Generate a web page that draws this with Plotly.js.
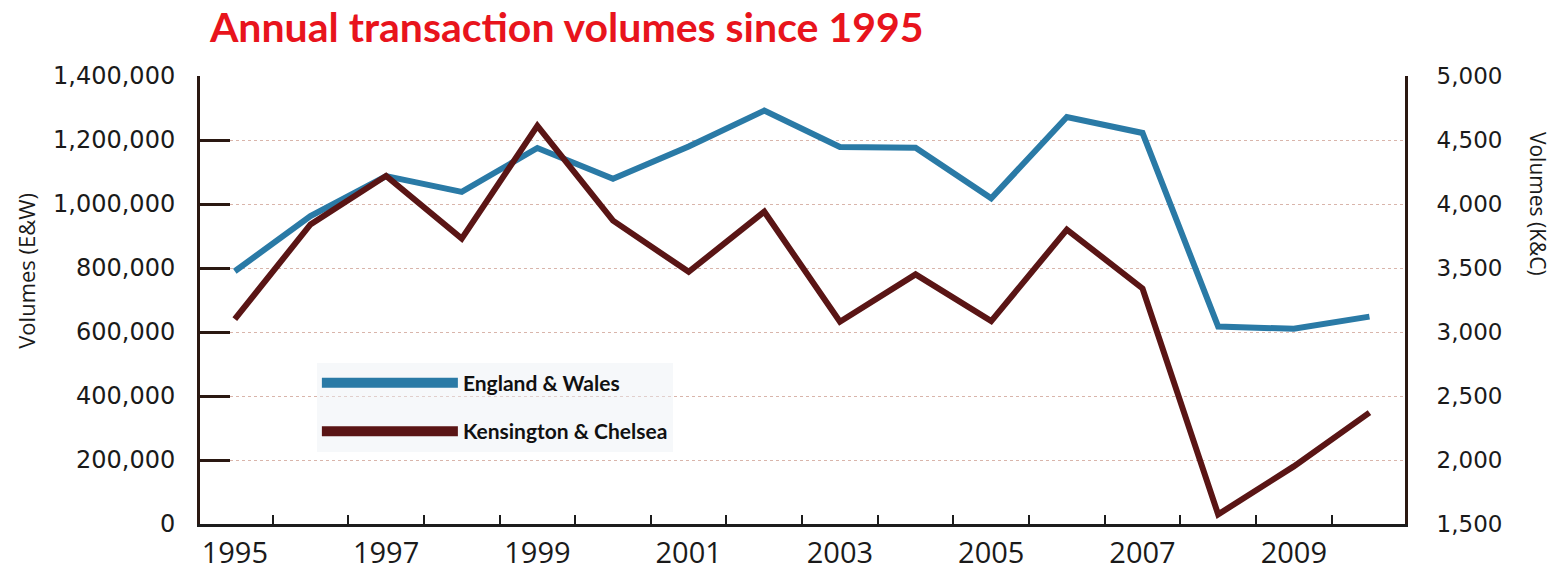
<!DOCTYPE html>
<html>
<head>
<meta charset="utf-8">
<script src="https://cdn.plot.ly/plotly-3.0.1.min.js"></script>
<style>
  html, body { margin: 0; padding: 0; background: #ffffff; }
  #chart { width: 1555px; height: 576px; }
</style>
</head>
<body>
<div id="chart"></div>
<script>
// ---- data ----
const years = [1995, 1996, 1997, 1998, 1999, 2000, 2001, 2002, 2003, 2004, 2005, 2006, 2007, 2008, 2009, 2010];
const englandWales = [790000, 962000, 1087000, 1038000, 1175000, 1079000, 1180000, 1292000, 1178000, 1176000, 1018000, 1272000, 1222000, 617000, 610000, 648000];
const kensingtonChelsea = [3100, 3840, 4220, 3730, 4610, 3870, 3470, 3940, 3080, 3450, 3085, 3800, 3340, 1575, 1950, 2370];
const xTickYears = [1995, 1997, 1999, 2001, 2003, 2005, 2007, 2009];
const xTickLabels = ["1995", "1997", "1999", "2001", "2003", "2005", "2007", "2009"];
const xBoundaryTicks = [1995.5, 1996.5, 1997.5, 1998.5, 1999.5, 2000.5, 2001.5, 2002.5, 2003.5, 2004.5, 2005.5, 2006.5, 2007.5, 2008.5, 2009.5];
const seriesNames = ["England & Wales", "Kensington & Chelsea"];
const leftTicks = [0, 200000, 400000, 600000, 800000, 1000000, 1200000, 1400000];
const rightTicks = [1500, 2000, 2500, 3000, 3500, 4000, 4500, 5000];

const blue = "#2a7aa6";
const maroon = "#5a1515";
const axisDark = "#2a1812";

const traces = [
  {
    x: years, y: englandWales, name: seriesNames[0], type: "scatter", mode: "lines",
    line: { color: blue, width: 6 }, yaxis: "y", showlegend: false, hoverinfo: "x+y"
  },
  {
    x: years, y: kensingtonChelsea, name: seriesNames[1], type: "scatter", mode: "lines",
    line: { color: maroon, width: 6 }, yaxis: "y2", showlegend: false, hoverinfo: "x+y"
  },
  // legend entries (thicker swatches, as in the reference)
  {
    x: [null], y: [null], name: seriesNames[0], type: "scatter", mode: "lines",
    line: { color: blue, width: 14 }, yaxis: "y", legendgroup: "a", showlegend: true
  },
  {
    x: [null], y: [null], name: seriesNames[1], type: "scatter", mode: "lines",
    line: { color: maroon, width: 14 }, yaxis: "y", legendgroup: "b", showlegend: true
  }
];

const layout = {
  width: 1555, height: 576,
  paper_bgcolor: "#ffffff", plot_bgcolor: "#ffffff",
  margin: { l: 200, r: 150, t: 76, b: 52 },
  title: {
    text: "Annual transaction volumes since 1995",
    font: { family: "Lato", size: 41, color: "#e8141c", weight: 700 },
    x: 0.135, xref: "container", xanchor: "left",
    y: 0.952, yref: "container", yanchor: "middle"
  },
  xaxis: {
    range: [1994.54, 2010.47],
    tickmode: "array", tickvals: xTickYears, ticktext: xTickLabels,
    ticks: "", showgrid: false, zeroline: false,
    showline: true, linecolor: "#1c1c1c", linewidth: 3,
    tickfont: { family: "Open Sans", size: 29, color: "#1a1a1a" },
    ticklabelstandoff: 1,
    minor: { tickmode: "array", tickvals: xBoundaryTicks, ticks: "inside", ticklen: 9, tickwidth: 2, tickcolor: "#1c1c1c", showgrid: false }
  },
  yaxis: {
    range: [0, 1400000],
    tickmode: "array", tickvals: leftTicks, tickformat: ",d",
    ticks: "inside", ticklen: 30, tickwidth: 3, tickcolor: axisDark,
    showline: true, linecolor: axisDark, linewidth: 3,
    showgrid: true, gridcolor: "#d9b5ab", griddash: "dot", gridwidth: 1,
    zeroline: false,
    tickfont: { family: "DejaVu Sans", size: 24, color: "#1a1a1a" },
    ticklabelstandoff: 17
  },
  yaxis2: {
    range: [1500, 5000], overlaying: "y", side: "right",
    tickmode: "array", tickvals: rightTicks, tickformat: ",d",
    ticks: "", showgrid: false, zeroline: false,
    showline: true, linecolor: axisDark, linewidth: 3,
    tickfont: { family: "DejaVu Sans", size: 23, color: "#1a1a1a" },
    ticklabelstandoff: 24
  },
  showlegend: true,
  legend: {
    x: 0.097, xanchor: "left", y: 0.36, yanchor: "top",
    bgcolor: "rgba(236,239,243,0.45)", borderwidth: 0,
    itemwidth: 136, traceorder: "grouped", tracegroupgap: 18,
    font: { family: "Lato", size: 21, color: "#111111", weight: 700 }
  },
  annotations: [
    {
      text: "Volumes (E&W)", xref: "paper", yref: "paper",
      x: -0.1445, y: 0.565, xanchor: "center", yanchor: "middle",
      textangle: -90, showarrow: false,
      font: { family: "Open Sans", size: 22, color: "#1a1a1a" }
    },
    {
      text: "Volumes (K&C)", xref: "paper", yref: "paper",
      x: 1.111, y: 0.715, xanchor: "center", yanchor: "middle",
      textangle: 90, showarrow: false,
      font: { family: "Open Sans", size: 21, color: "#1a1a1a" }
    }
  ]
};

Plotly.newPlot("chart", traces, layout, { displayModeBar: false, staticPlot: false });
</script>
</body>
</html>
